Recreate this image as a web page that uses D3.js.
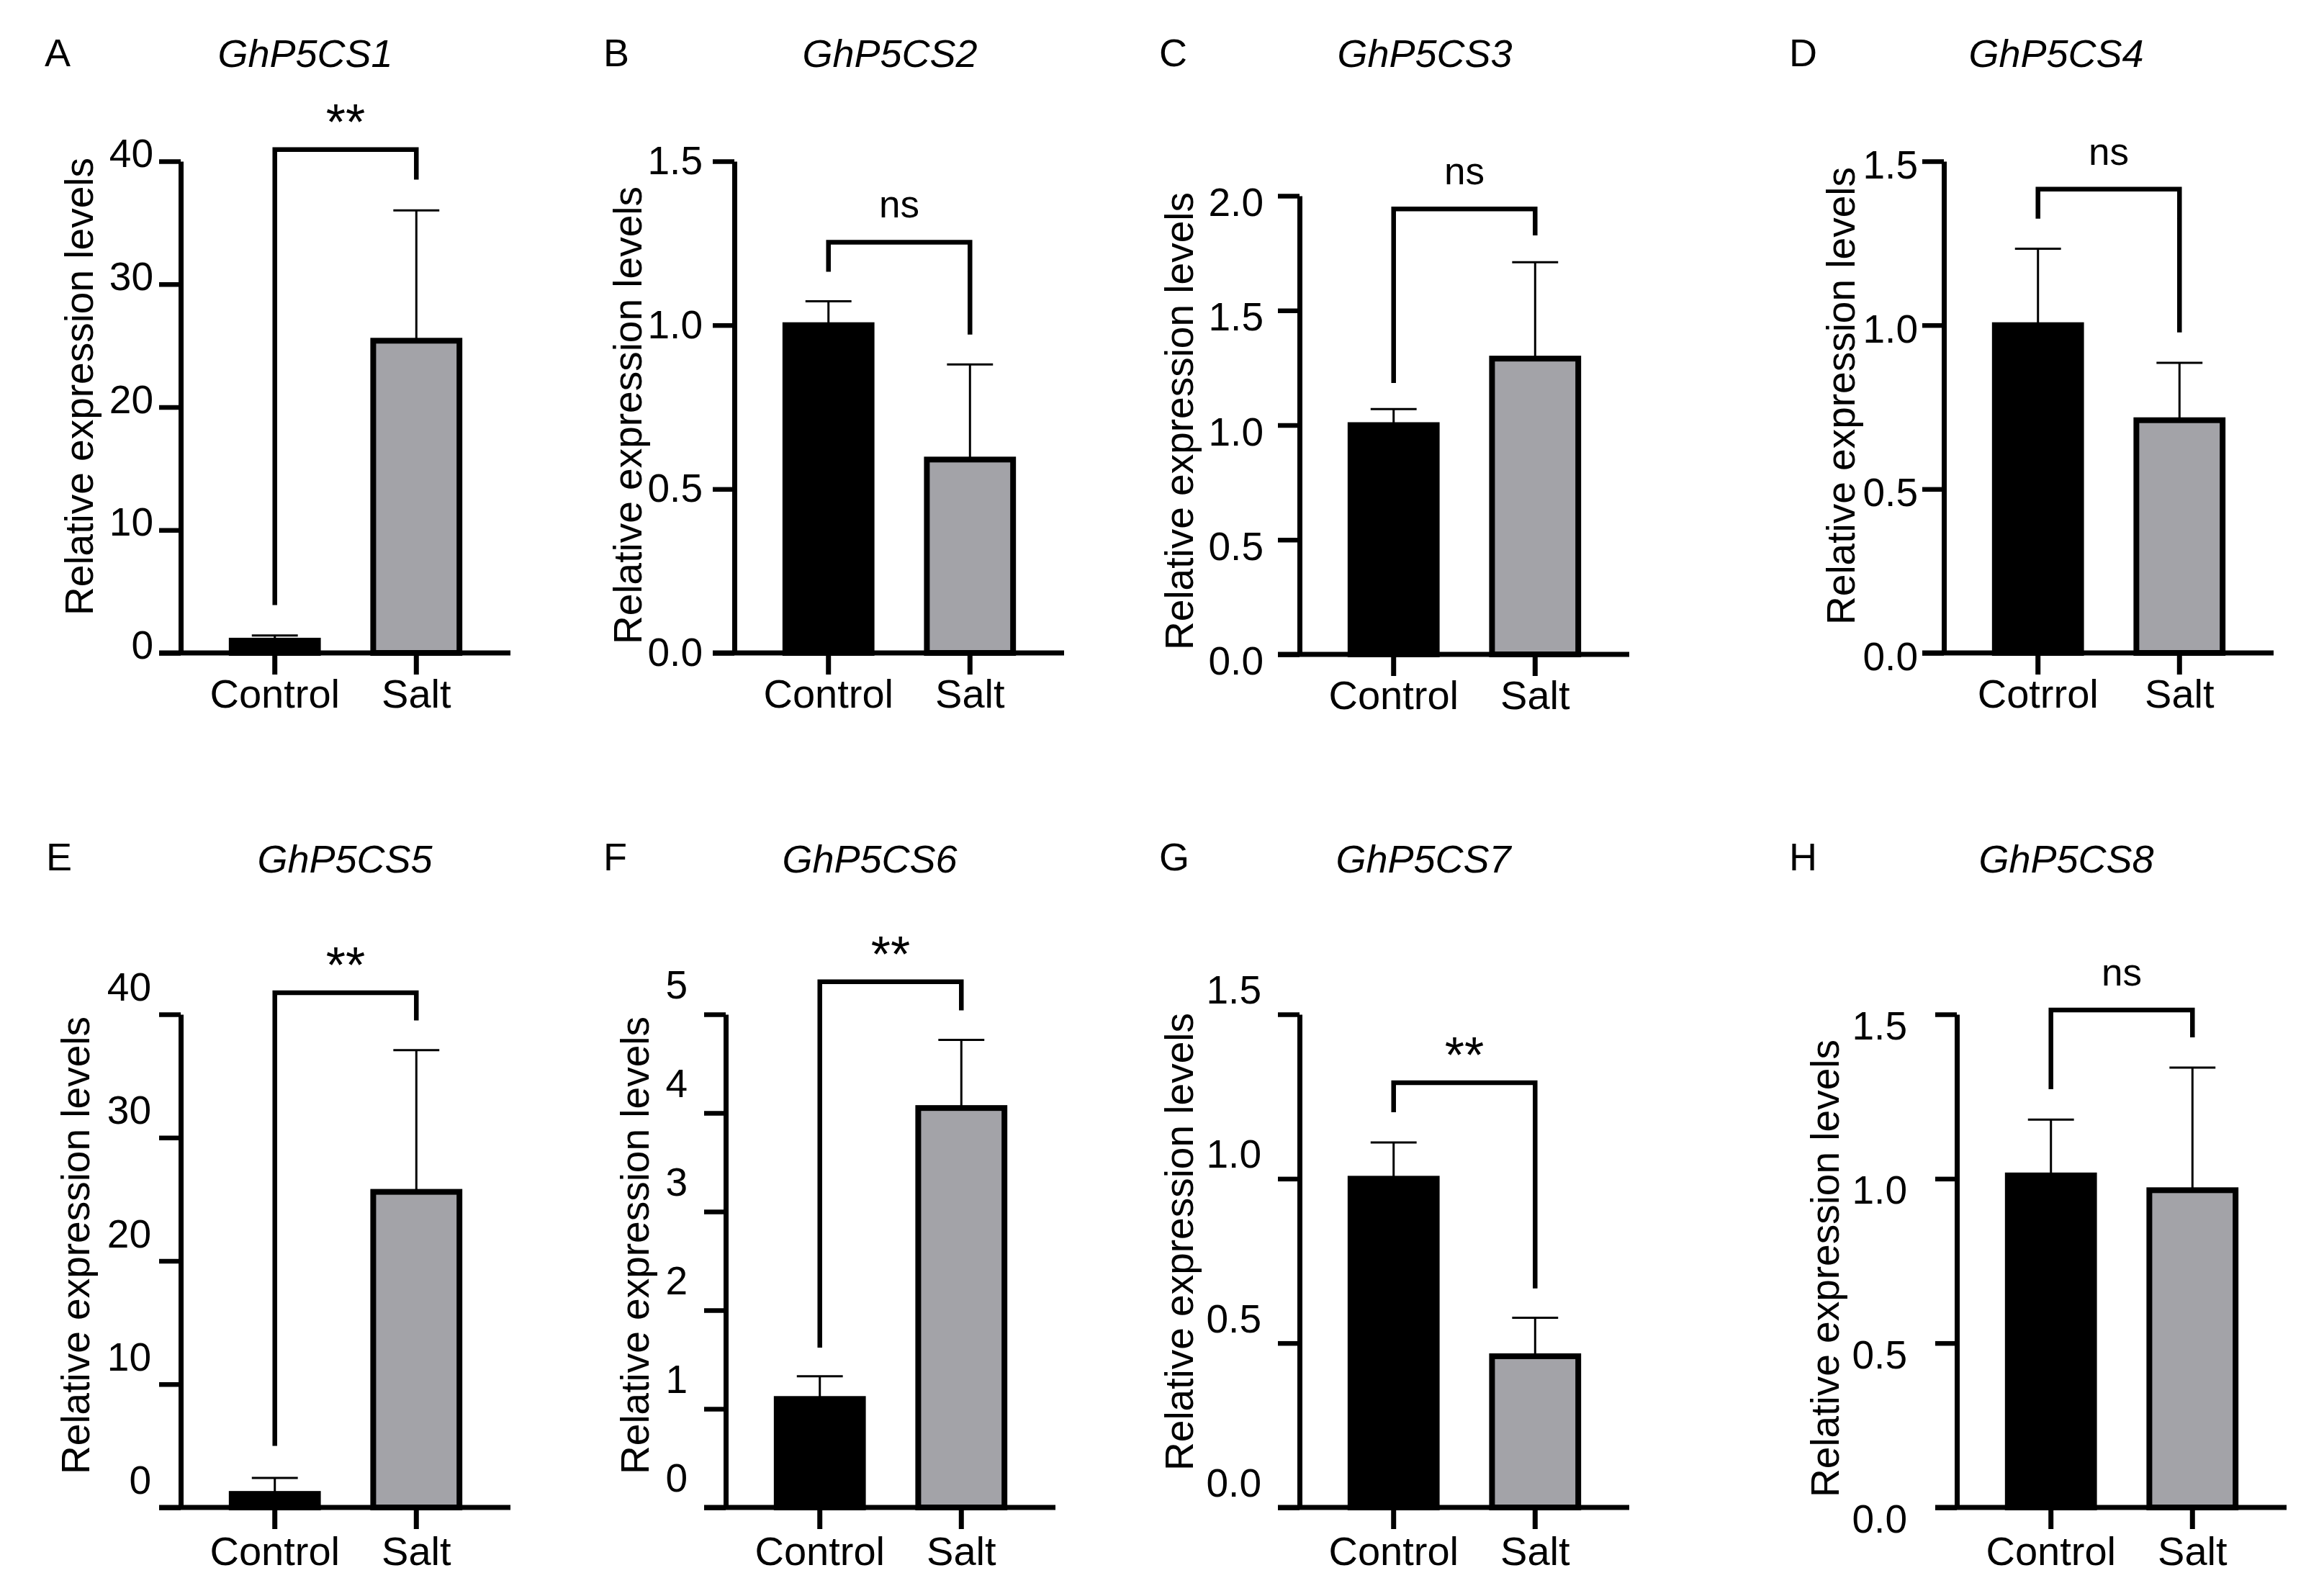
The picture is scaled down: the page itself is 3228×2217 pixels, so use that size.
<!DOCTYPE html>
<html>
<head>
<meta charset="utf-8">
<script src="https://cdn.jsdelivr.net/npm/d3@7"></script>
<style>
  body { margin: 0; background: #fff; }
  text { font-family: 'Liberation Sans', Arial, sans-serif; fill: #000; }
</style>
</head>
<body>
<svg id="fig" width="3228" height="2217"></svg>
<script>
// ---- data ----
var panelLetters = ['A', 'B', 'C', 'D', 'E', 'F', 'G', 'H'];
var genes = ['GhP5CS1', 'GhP5CS2', 'GhP5CS3', 'GhP5CS4', 'GhP5CS5', 'GhP5CS6', 'GhP5CS7', 'GhP5CS8'];
var groups = ['Control', 'Salt'];
var controlNames = ['Control', 'Control', 'Control', 'Cotrrol', 'Control', 'Control', 'Control', 'Control'];
var controlMean = [1.0, 1.0, 1.0, 1.0, 1.1, 1.1, 1.0, 1.01];
var controlErr = [0.42, 0.073, 0.07, 0.233, 1.3, 0.23, 0.11, 0.17];
var saltMean = [25.4, 0.59, 1.29, 0.71, 25.6, 4.05, 0.46, 0.965];
var saltErr = [10.6, 0.29, 0.42, 0.175, 11.5, 0.69, 0.117, 0.373];
var signif = ['**', 'ns', 'ns', 'ns', '**', '**', '**', 'ns'];
var yMax = [40, 1.5, 2.0, 1.5, 40, 5, 1.5, 1.5];
var yStep = [10, 0.5, 0.5, 0.5, 10, 1, 0.5, 0.5];
// comparison bracket, in data units: bar height of top, left foot, right foot
var bracketTop = [40.95, 1.253, 1.943, 1.415, 41.75, 5.33, 1.292, 1.513];
var bracketLeft = [3.9, 1.163, 1.184, 1.325, 5.0, 1.62, 1.202, 1.272];
var bracketRight = [38.5, 0.971, 1.827, 0.978, 39.5, 5.04, 0.666, 1.43];

// ---- layout ----
var axisX = [251, 1020, 1805, 2700, 251, 1008, 1805, 2718]
  , axisTop = [224, 224, 272, 224, 1409, 1409, 1409, 1409]
  , axisBottom = [907, 907, 909, 907, 2094, 2094, 2094, 2094]
  , letterX = [62, 838, 1610, 2485, 64, 838, 1610, 2485]
  , titleX = [424, 1236, 1979, 2856, 479, 1208, 1977, 2870]
  , yTitleX = [110, 872, 1638, 2557, 105, 882, 1638, 2535]
  , yTitleY = [537, 577, 585, 550, 1730, 1730, 1725, 1762]
  , tickDy = [-10, 0, 10, 6, -37, -40, -33, 17]
  , tickGap = [8, 14, 20, 6, 11, 23, 23, 39]
  , plotW = 458
  , tickLen = 30
  , barStroke = 8
  , fontSize = 54
  , grey = '#a3a3a8'
  ;

var svg = d3.select('#fig');

function drawPanel(i) {
  var row = i < 4 ? 0 : 1;
  var g = svg.append('g');

  var x = d3.scaleBand()
      .domain(groups)
      .range([axisX[i], axisX[i] + plotW])
      .paddingInner(0.35)
      .paddingOuter(0.34);

  var y = d3.scaleLinear()
      .domain([0, yMax[i]])
      .range([axisBottom[i], axisTop[i]]);

  var bars = [
    {group: 'Control', mean: controlMean[i], err: controlErr[i], fill: '#000'},
    {group: 'Salt', mean: saltMean[i], err: saltErr[i], fill: grey}
  ];
  var cx = function (d) { return x(d) + x.bandwidth() / 2; };

  // bars
  g.selectAll('.bar')
      .data(bars)
    .enter().append('rect')
      .attr('x', function (d) { return x(d.group) + barStroke / 2; })
      .attr('width', x.bandwidth() - barStroke)
      .attr('y', function (d) { return y(d.mean); })
      .attr('height', function (d) { return y(0) - y(d.mean); })
      .attr('fill', function (d) { return d.fill; })
      .attr('stroke', '#000')
      .attr('stroke-width', barStroke);

  // error bars (upper only)
  var eb = g.selectAll('.err')
      .data(bars)
    .enter().append('g');
  eb.append('line')
      .attr('x1', function (d) { return cx(d.group); })
      .attr('x2', function (d) { return cx(d.group); })
      .attr('y1', function (d) { return y(d.mean); })
      .attr('y2', function (d) { return y(d.mean + d.err); })
      .attr('stroke', '#000').attr('stroke-width', 3);
  eb.append('line')
      .attr('x1', function (d) { return cx(d.group) - x.bandwidth() / 4; })
      .attr('x2', function (d) { return cx(d.group) + x.bandwidth() / 4; })
      .attr('y1', function (d) { return y(d.mean + d.err); })
      .attr('y2', function (d) { return y(d.mean + d.err); })
      .attr('stroke', '#000').attr('stroke-width', 3);

  // y axis
  var fmt = yStep[i] >= 1 ? d3.format('d') : d3.format('.1f');
  var ya = g.append('g')
      .attr('transform', 'translate(' + axisX[i] + ',0)')
      .call(d3.axisLeft(y)
        .tickValues(d3.range(0, yMax[i] + yStep[i] / 2, yStep[i]))
        .tickSize(tickLen)
        .tickSizeOuter(0)
        .tickPadding(tickGap[i])
        .tickFormat(fmt));
  ya.select('.domain').attr('stroke', '#000').attr('stroke-width', 7);
  ya.selectAll('.tick line').attr('stroke', '#000').attr('stroke-width', 6.5);
  ya.selectAll('.tick text')
      .attr('font-size', fontSize + 1)
      .attr('font-family', "'Liberation Sans', Arial, sans-serif")
      .attr('transform', 'translate(0,' + tickDy[i] + ')');

  // x axis
  g.append('line')
      .attr('x1', axisX[i] - tickLen)
      .attr('x2', axisX[i] + plotW)
      .attr('y1', y(0))
      .attr('y2', y(0))
      .attr('stroke', '#000')
      .attr('stroke-width', 7);
  var xa = g.append('g')
      .attr('transform', 'translate(0,' + y(0) + ')')
      .call(d3.axisBottom(x)
        .tickSize(tickLen)
        .tickSizeOuter(0)
        .tickPadding(row ? 10 : 6)
        .tickFormat(function (d) { return d === 'Control' ? controlNames[i] : d; }));
  xa.select('.domain').remove();
  xa.selectAll('.tick line').attr('stroke', '#000').attr('stroke-width', 7);
  xa.selectAll('.tick text')
      .attr('font-size', fontSize + 2)
      .attr('font-family', "'Liberation Sans', Arial, sans-serif");

  // comparison bracket + label
  var xl = cx('Control'), xr = cx('Salt');
  g.append('path')
      .attr('d', 'M' + xl + ',' + y(bracketLeft[i]) + 'V' + y(bracketTop[i]) +
                 'H' + xr + 'V' + y(bracketRight[i]))
      .attr('fill', 'none')
      .attr('stroke', '#000')
      .attr('stroke-width', 6.5);
  var star = signif[i] === '**';
  g.append('text')
      .text(signif[i])
      .attr('x', (xl + xr) / 2)
      .attr('y', y(bracketTop[i]) - (star ? 14 : 34))
      .attr('text-anchor', 'middle')
      .attr('font-size', star ? 70 : 53);

  // titles
  g.append('text')
      .text(panelLetters[i])
      .attr('x', letterX[i])
      .attr('y', row ? 1209 : 92)
      .attr('font-size', 54);
  g.append('text')
      .text(genes[i])
      .attr('x', titleX[i])
      .attr('y', row ? 1212 : 93)
      .attr('text-anchor', 'middle')
      .attr('font-style', 'italic')
      .attr('font-size', fontSize);
  g.append('text')
      .text('Relative expression levels')
      .attr('transform', 'translate(' + yTitleX[i] + ',' + yTitleY[i] + ') rotate(-90)')
      .attr('text-anchor', 'middle')
      .attr('dominant-baseline', 'central')
      .attr('font-size', 55);
}

for (var i = 0; i < genes.length; i++) drawPanel(i);
</script>
</body>
</html>
